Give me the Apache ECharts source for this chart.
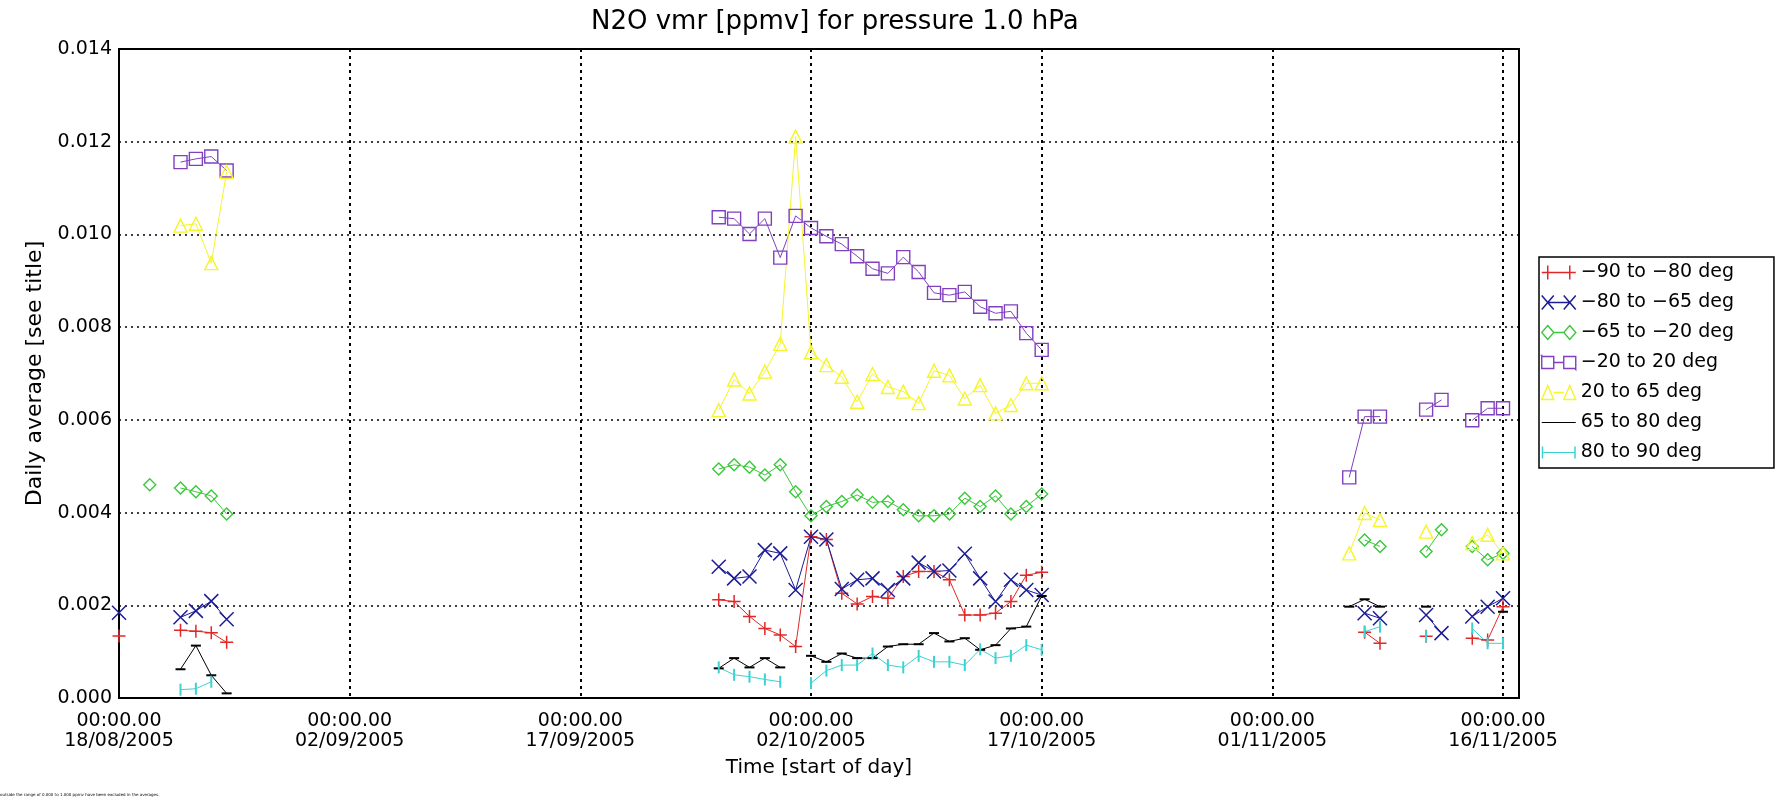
<!DOCTYPE html>
<html>
<head>
<meta charset="utf-8">
<script src="https://cdn.jsdelivr.net/npm/echarts@6/dist/echarts.min.js"></script>
<style>
  html, body { margin: 0; padding: 0; background: #fff; }
  #chart { width: 1778px; height: 798px; }
</style>
</head>
<body>
<div id="chart"></div>
<script>
  // daily averages, ppmv
  var dates = [
    '2005-08-18','2005-08-19','2005-08-20','2005-08-21','2005-08-22','2005-08-23','2005-08-24','2005-08-25',
    '2005-09-26','2005-09-27','2005-09-28','2005-09-29','2005-09-30','2005-10-01','2005-10-02','2005-10-03',
    '2005-10-04','2005-10-05','2005-10-06','2005-10-07','2005-10-08','2005-10-09','2005-10-10','2005-10-11',
    '2005-10-12','2005-10-13','2005-10-14','2005-10-15','2005-10-16','2005-10-17',
    '2005-11-06','2005-11-07','2005-11-08','2005-11-09','2005-11-10','2005-11-11','2005-11-12','2005-11-13',
    '2005-11-14','2005-11-15','2005-11-16'
  ];
  var red = [
    .00134,null,null,null,.00146,.00144,.00141,.00120,
    .00212,.00208,.00176,.00150,.00136,.00111,.00348,.00342,.00226,.00203,.00219,.00215,.00262,.00273,.00273,.00255,.00179,.00179,.00183,.00208,.00265,.00271,
    null,.00142,.00118,null,null,.00133,null,null,.00129,.00125,.00197
  ];
  var blue = [
    .00184,null,null,null,.00174,.00188,.00209,.00170,
    .00283,.00258,.00262,.00319,.00312,.00233,.00348,.00342,.00235,.00255,.00258,.00233,.00258,.00292,.00273,.00275,.00311,.00258,.00208,.00255,.00233,.00222,
    null,.00183,.00172,null,null,.00179,.00140,null,.00176,.00197,.00215
  ];
  var green = [
    null,null,.00460,null,.00453,.00445,.00436,.00397,
    .00494,.00503,.00498,.00481,.00503,.00445,.00393,.00413,.00424,.00438,.00422,.00424,.00406,.00393,.00393,.00397,.00431,.00413,.00436,.00397,.00413,.00440,
    null,.00341,.00327,null,null,.00316,.00363,null,.00327,.00298,.00312
  ];
  var purple = [
    null,null,null,null,.01156,.01163,.01168,.01138,
    .01037,.01034,.01001,.01034,.00950,.01040,.01014,.00996,.00979,.00953,.00926,.00916,.00951,.00919,.00874,.00869,.00876,.00844,.00830,.00834,.00787,.00751,
    .00476,.00607,.00607,null,null,.00622,.00643,null,.00599,.00625,.00625
  ];
  var yellow = [
    null,null,null,null,.01019,.01023,.00938,.01135,
    .00621,.00687,.00657,.00704,.00764,.01211,.00746,.00718,.00693,.00639,.00699,.00671,.00661,.00636,.00706,.00696,.00646,.00675,.00614,.00632,.00679,.00679,
    .00312,.00399,.00384,null,null,.00359,null,null,.00334,.00352,.00312
  ];
  var black = [
    null,null,null,null,.00062,.00113,.00049,.00010,
    .00064,.00086,.00066,.00086,.00066,null,.00091,.00078,.00096,.00086,.00086,.00111,.00116,.00116,.00140,.00122,.00129,.00104,.00114,.00150,.00154,.00220,
    .00197,.00213,.00197,null,null,.00197,null,null,null,null,.00186
  ];
  var cyan = [
    null,null,null,null,.00018,.00020,.00035,null,
    .00066,.00050,.00046,.00040,.00035,null,.00032,.00059,.00071,.00071,.00096,.00071,.00066,.00091,.00078,.00078,.00071,.00105,.00086,.00091,.00114,.00104,
    null,.00143,.00154,null,null,.00133,null,null,.00150,.00118,.00118
  ];
  var names = ['−90 to −80 deg','−80 to −65 deg','−65 to −20 deg','−20 to 20 deg','20 to 65 deg','65 to 80 deg','80 to 90 deg'];
  var yTicks = [0, 0.002, 0.004, 0.006, 0.008, 0.010, 0.012, 0.014];

  var FONT = 'DejaVu Sans';
  var T0 = Date.UTC(2005, 7, 18);
  var DAY = 86400000;

  function dayIdx(s) {
    var p = s.split('-');
    return (Date.UTC(+p[0], +p[1] - 1, +p[2]) - T0) / DAY;
  }
  // break the line wherever days are missing
  function toData(vals) {
    var out = [], prev = null;
    dates.forEach(function (d, i) {
      var x = dayIdx(d);
      if (prev !== null && x - prev > 1) out.push([x - 0.5, null]);
      out.push([x, vals[i]]);
      prev = x;
    });
    return out;
  }
  function pad(n) { return (n < 10 ? '0' : '') + n; }

  // legend icons: symbol - line - symbol, like the IDL legend
  var CORNERS = ' M0,0L0.01,0L0.01,0.01Z M33.99,13.99L34,13.99L34,14Z';
  var legendIcons = [
    'path://M0,7L34,7M6,0L6,14M28,0L28,14',
    'path://M0,0L12,14M12,0L0,14M6,7L28,7M22,0L34,14M34,0L22,14',
    'path://M6,0L12,7L6,14L0,7Z M12,7L22,7 M28,0L34,7L28,14L22,7Z',
    'path://M0,1L12,1L12,13L0,13Z M12,7L22,7 M22,1L34,1L34,13L22,13Z' + CORNERS,
    'path://M6,0L12,14L0,14Z M12,7L22,7 M28,0L34,14L22,14Z',
    'path://M0,6.5L34,6.5L34,7.5L0,7.5Z' + CORNERS,
    'path://M0,1L1.5,1L1.5,13L0,13Z M1.5,6.5L32.5,6.5L32.5,7.5L1.5,7.5Z M32.5,1L34,1L34,13L32.5,13Z' + CORNERS
  ];
  var colors = ['#e02828', '#1c1c96', '#3cc83c', '#8040c0', '#f5f52a', '#000000', '#3cd2d2'];
  var kinds = ['stroke', 'stroke', 'hollow', 'hollow', 'hollow', 'solid', 'solid'];

  function itemStyleOf(color, kind) {
    if (kind === 'hollow') return { color: 'rgba(0,0,0,0)', borderColor: color, borderWidth: 1.4 };
    if (kind === 'stroke') return { color: color, borderColor: color, borderWidth: 1.5 };
    return { color: color, borderColor: color, borderWidth: 0 };
  }

  function mkSeries(i, vals, symbol, size) {
    return {
      name: names[i],
      type: 'line',
      data: toData(vals),
      symbol: symbol,
      symbolSize: size,
      lineStyle: { color: colors[i], width: 1 },
      itemStyle: itemStyleOf(colors[i], kinds[i]),
      emphasis: { disabled: true },
      clip: true,
      animation: false
    };
  }

  var chart = echarts.init(document.getElementById('chart'));
  var option = {
    backgroundColor: '#fff',
    animation: false,
    grid: {
      left: 119, right: 259, top: 49, bottom: 100,
      show: true, borderColor: '#000', borderWidth: 2, backgroundColor: 'transparent'
    },
    legend: {
      orient: 'vertical',
      left: 1539, top: 257,
      itemWidth: 34, itemHeight: 14, itemGap: 11,
      padding: [6, 40, 6, 2],
      borderColor: '#000', borderWidth: 1.5,
      textStyle: { fontFamily: FONT, fontSize: 19, color: '#000' },
      data: names.map(function (n, i) {
        var st = itemStyleOf(colors[i], kinds[i]);
        if (kinds[i] === 'stroke') st.color = 'rgba(0,0,0,0)';
        return { name: n, icon: legendIcons[i], itemStyle: st };
      })
    },
    graphic: [
      {
        type: 'text', left: 591, top: 9,
        style: { text: 'N2O vmr [ppmv] for pressure 1.0 hPa', font: '26px "DejaVu Sans"', fill: '#000' }
      },
      {
        type: 'text', left: 0, top: 793,
        style: { text: 'outside the range of 0.000 to 1.000 ppmv have been excluded in the averages.', font: '4px "DejaVu Sans"', fill: '#000' }
      }
    ],
    xAxis: {
      type: 'value',
      min: 0, max: 91.04, interval: 15,
      name: 'Time [start of day]',
      nameLocation: 'middle', nameGap: 60,
      nameTextStyle: { fontFamily: FONT, fontSize: 20, color: '#000' },
      axisLine: { show: false },
      axisTick: { show: false },
      axisLabel: {
        fontFamily: FONT, fontSize: 19, color: '#000', lineHeight: 20, margin: 13,
        showMaxLabel: false,
        formatter: function (v) {
          if (v % 15 !== 0) return '';
          var d = new Date(T0 + v * DAY);
          return '00:00.00\n' + pad(d.getUTCDate()) + '/' + pad(d.getUTCMonth() + 1) + '/' + d.getUTCFullYear();
        }
      },
      splitLine: { show: true, lineStyle: { color: '#000', width: 2, type: [3, 4] } }
    },
    yAxis: {
      type: 'value',
      min: yTicks[0], max: yTicks[yTicks.length - 1], interval: 0.002,
      name: 'Daily average [see title]',
      nameLocation: 'middle', nameGap: 72,
      nameTextStyle: { fontFamily: FONT, fontSize: 22, color: '#000' },
      axisLine: { show: false },
      axisTick: { show: false },
      axisLabel: {
        fontFamily: FONT, fontSize: 19, color: '#000', margin: 7,
        formatter: function (v) { return v.toFixed(3); }
      },
      splitLine: { show: true, lineStyle: { color: '#000', width: 1.5, type: [2, 4] } }
    },
    series: [
      mkSeries(0, red, 'path://M0,5L10,5M5,0L5,10', 13),
      mkSeries(1, blue, 'path://M0,0L10,10M10,0L0,10', 14),
      mkSeries(2, green, 'diamond', 12),
      mkSeries(3, purple, 'rect', 13),
      mkSeries(4, yellow, 'triangle', 13),
      mkSeries(5, black, 'rect', [10, 2]),
      mkSeries(6, cyan, 'rect', [2, 12])
    ]
  };
  chart.setOption(option);
</script>
</body>
</html>
